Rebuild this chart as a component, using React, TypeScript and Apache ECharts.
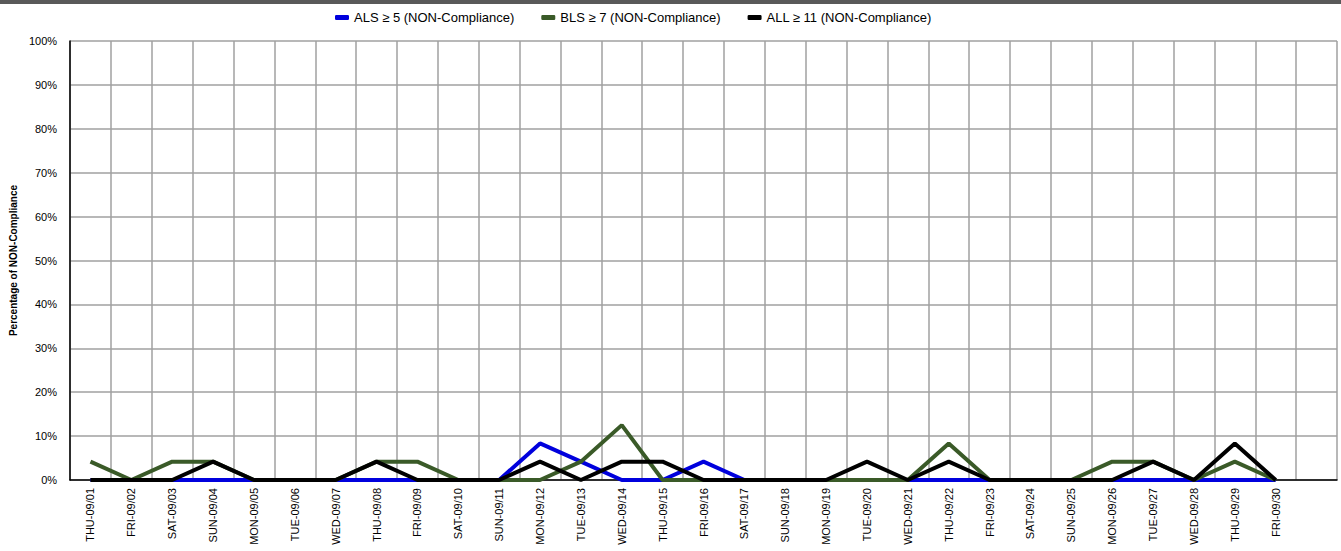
import React, { useEffect, useRef } from "react";
import * as echarts from "echarts";

const categories = [
  "THU-09/01", "FRI-09/02", "SAT-09/03", "SUN-09/04", "MON-09/05", "TUE-09/06", "WED-09/07",
  "THU-09/08", "FRI-09/09", "SAT-09/10", "SUN-09/11", "MON-09/12", "TUE-09/13", "WED-09/14",
  "THU-09/15", "FRI-09/16", "SAT-09/17", "SUN-09/18", "MON-09/19", "TUE-09/20", "WED-09/21",
  "THU-09/22", "FRI-09/23", "SAT-09/24", "SUN-09/25", "MON-09/26", "TUE-09/27", "WED-09/28",
  "THU-09/29", "FRI-09/30", "",
];

const alsValues = [
  0, 0, 0, 0, 0, 0, 0, 0, 0, 0, 0, 8.33, 4.17, 0, 0, 4.17, 0, 0, 0, 0, 0, 0, 0, 0, 0, 0, 0, 0, 0, 0,
];
const blsValues = [
  4.17, 0, 4.17, 4.17, 0, 0, 0, 4.17, 4.17, 0, 0, 0, 4.17, 12.5, 0, 0, 0, 0, 0, 0, 0, 8.33, 0, 0, 0,
  4.17, 4.17, 0, 4.17, 0,
];
const allValues = [
  0, 0, 0, 4.17, 0, 0, 0, 4.17, 0, 0, 0, 4.17, 0, 4.17, 4.17, 0, 0, 0, 0, 4.17, 0, 4.17, 0, 0, 0,
  0, 4.17, 0, 8.33, 0,
];

const seriesNames = [
  "ALS \u2265 5 (NON-Compliance)",
  "BLS \u2265 7 (NON-Compliance)",
  "ALL \u2265 11 (NON-Compliance)",
];
const seriesColors = ["#0000dd", "#3a5a28", "#000000"];

const FONT = "'Liberation Sans', Arial, sans-serif";

export default function App() {
  const ref = useRef<HTMLDivElement>(null);
  useEffect(() => {
    document.body.style.margin = "0";
    const chart = echarts.init(ref.current!, null, { renderer: "svg" });
    const data = [alsValues, blsValues, allValues];
    chart.setOption({
      animation: false,
      backgroundColor: "#ffffff",
      textStyle: { fontFamily: FONT },
      graphic: [
        {
          type: "rect",
          left: 0,
          top: 0,
          shape: { width: 1341, height: 4 },
          style: { fill: "#595959" },
        },
      ],
      legend: {
        top: 6,
        left: 330,
        itemWidth: 14,
        itemHeight: 5,
        itemGap: 27,
        icon: "roundRect",
        textStyle: { fontFamily: FONT, fontSize: 13, color: "#000" },
        data: seriesNames,
      },
      grid: { left: 66, right: 4, top: 41, bottom: 71, containLabel: false },
      xAxis: {
        type: "category",
        data: categories,
        boundaryGap: true,
        axisLine: { show: true, lineStyle: { color: "#000", width: 1.5 } },
        axisTick: { show: false },
        axisLabel: {
          interval: 0,
          rotate: 90,
          margin: 8,
          fontSize: 11,
          color: "#000",
          fontFamily: FONT,
        },
        splitLine: { show: true, interval: 0, lineStyle: { color: "#a0a0a0", width: 1.5 } },
      },
      yAxis: {
        type: "value",
        min: 0,
        max: 100,
        interval: 10,
        name: "Percentage of NON-Compliance",
        nameLocation: "middle",
        nameGap: 48,
        nameTextStyle: { fontSize: 10, fontWeight: "bold", color: "#000", fontFamily: FONT },
        axisLine: { show: true, lineStyle: { color: "#000", width: 1.5 } },
        axisTick: { show: false },
        axisLabel: { formatter: "{value}%", fontSize: 11, color: "#000", margin: 13, fontFamily: FONT },
        splitLine: { show: true, lineStyle: { color: "#a0a0a0", width: 1.5 } },
      },
      series: seriesNames.map((name, i) => ({
        name,
        type: "line",
        data: data[i],
        showSymbol: false,
        symbol: "none",
        itemStyle: { color: seriesColors[i] },
        lineStyle: { color: seriesColors[i], width: 4 },
        z: 2 + i,
      })),
    });
    return () => chart.dispose();
  }, []);
  return <div ref={ref} style={{ width: 1341, height: 551, position: "absolute", left: 0, top: 0 }} />;
}
